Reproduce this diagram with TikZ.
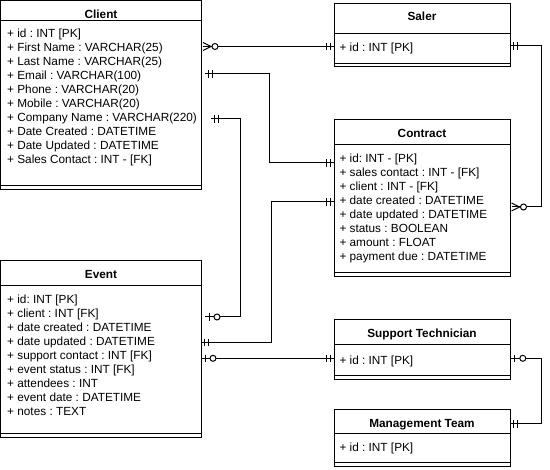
\documentclass[tikz,border=0pt]{standalone}
\usepackage{fontspec}
\setmainfont{Liberation Sans}
\usetikzlibrary{calc}
\frenchspacing

% ER notation end marks
% mandatory one: two bars
\pgfdeclarearrow{
  name = ERone,
  setup code = {
    \pgfarrowssettipend{0pt}
    \pgfarrowssetlineend{0pt}
    \pgfarrowssetbackend{-9pt}
    \pgfarrowssetvisualbackend{-9pt}
    \pgfarrowshullpoint{0pt}{4pt}
    \pgfarrowshullpoint{0pt}{-4pt}
    \pgfarrowshullpoint{-9pt}{4pt}
    \pgfarrowshullpoint{-9pt}{-4pt}
  },
  drawing code = {
    \pgfsetdash{}{0pt}
    \pgfpathmoveto{\pgfpoint{-3.7pt}{-3.6pt}}
    \pgfpathlineto{\pgfpoint{-3.7pt}{3.6pt}}
    \pgfpathmoveto{\pgfpoint{-7.7pt}{-3.6pt}}
    \pgfpathlineto{\pgfpoint{-7.7pt}{3.6pt}}
    \pgfusepathqstroke
  }
}
% zero or one: bar and circle
\pgfdeclarearrow{
  name = ERzone,
  setup code = {
    \pgfarrowssettipend{0pt}
    \pgfarrowssetlineend{0pt}
    \pgfarrowssetbackend{-16pt}
    \pgfarrowssetvisualbackend{-16pt}
    \pgfarrowshullpoint{0pt}{4pt}
    \pgfarrowshullpoint{0pt}{-4pt}
    \pgfarrowshullpoint{-16pt}{4pt}
    \pgfarrowshullpoint{-16pt}{-4pt}
  },
  drawing code = {
    \pgfsetdash{}{0pt}
    \pgfpathmoveto{\pgfpoint{-4pt}{-3.6pt}}
    \pgfpathlineto{\pgfpoint{-4pt}{3.6pt}}
    \pgfusepathqstroke
    \pgfsetfillcolor{white}
    \pgfpathcircle{\pgfpoint{-12pt}{0pt}}{3pt}
    \pgfusepathqfillstroke
  }
}
% zero or many: crow's foot and circle
\pgfdeclarearrow{
  name = ERzmany,
  setup code = {
    \pgfarrowssettipend{0pt}
    \pgfarrowssetlineend{0pt}
    \pgfarrowssetbackend{-16pt}
    \pgfarrowssetvisualbackend{-16pt}
    \pgfarrowshullpoint{0pt}{4pt}
    \pgfarrowshullpoint{0pt}{-4pt}
    \pgfarrowshullpoint{-16pt}{4pt}
    \pgfarrowshullpoint{-16pt}{-4pt}
  },
  drawing code = {
    \pgfsetdash{}{0pt}
    \pgfpathmoveto{\pgfpoint{0pt}{-4pt}}
    \pgfpathlineto{\pgfpoint{-8pt}{0pt}}
    \pgfpathlineto{\pgfpoint{0pt}{4pt}}
    \pgfusepathqstroke
    \pgfsetfillcolor{white}
    \pgfpathcircle{\pgfpoint{-12pt}{0pt}}{3pt}
    \pgfusepathqfillstroke
  }
}

\tikzset{
  entity/.style={draw, line width=1pt, inner sep=0pt, outer sep=0pt,
    anchor=north west, fill=white},
  etitle/.style={font=\fontsize{11.8}{14}\selectfont\bfseries, anchor=base,
    inner sep=0pt},
  attr/.style={font=\fontsize{11.8}{14}\selectfont, anchor=base west,
    inner sep=0pt},
  rule/.style={line width=1pt},
  link/.style={line width=1pt, line join=miter},
}

\begin{document}
\begin{tikzpicture}[x=1pt, y=-1pt]
\fill[white] (0,0) rectangle (550,470);
\useasboundingbox (0,0) rectangle (550,470);

% ---------- Client ----------
\node[entity, minimum width=200.5pt, minimum height=189.5pt] (client) at (0.5,0.5) {};
\draw[rule] (client.west |- 0,21) -- (client.east |- 0,21);
\draw[rule] (client.west |- 0,186) -- (client.east |- 0,186);
\node[etitle] (client-title) at (101,18.3) {Client};
\foreach \t [count=\i from 0] in {
  {+ id : INT [PK]},
  {+ First Name : VARCHAR(25)},
  {+ Last Name : VARCHAR(25)},
  {+ Email : VARCHAR(100)},
  {+ Phone : VARCHAR(20)},
  {+ Mobile : VARCHAR(20)},
  {+ Company Name : VARCHAR(220)},
  {+ Date Created : DATETIME},
  {+ Date Updated : DATETIME},
  {+ Sales Contact : INT - [FK]}}
  \node[attr] (client-r\i) at (7,{37.3+14*\i}) {\t};

% ---------- Event ----------
\node[entity, minimum width=200.5pt, minimum height=177pt] (event) at (0.5,260.7) {};
\draw[rule] (event.west |- 0,286) -- (event.east |- 0,286);
\draw[rule] (event.west |- 0,434) -- (event.east |- 0,434);
\node[etitle] (event-title) at (101,278.3) {Event};
\foreach \t [count=\i from 0] in {
  {+ id: INT [PK]},
  {+ client : INT [FK]},
  {+ date created : DATETIME},
  {+ date updated : DATETIME},
  {+ support contact : INT [FK]},
  {+ event status : INT [FK]},
  {+ attendees : INT},
  {+ event date : DATETIME},
  {+ notes : TEXT}}
  \node[attr] (event-r\i) at (7,{303.6+14*\i}) {\t};

% ---------- Saler ----------
\node[entity, minimum width=176pt, minimum height=63.7pt] (saler) at (334,3.3) {};
\draw[rule] (saler.west |- 0,33.3) -- (saler.east |- 0,33.3);
\draw[rule] (saler.west |- 0,63.3) -- (saler.east |- 0,63.3);
\node[etitle] (saler-title) at (422,21) {Saler};
\node[attr] (saler-r0) at (339.3,52) {+ id : INT [PK]};

% ---------- Contract ----------
\node[entity, minimum width=176pt, minimum height=157.4pt] (contract) at (334,119.3) {};
\draw[rule] (contract.west |- 0,144.3) -- (contract.east |- 0,144.3);
\draw[rule] (contract.west |- 0,272.7) -- (contract.east |- 0,272.7);
\node[etitle] (contract-title) at (422,137.5) {Contract};
\foreach \t [count=\i from 0] in {
  {+ id: INT - [PK]},
  {+ sales contact : INT - [FK]},
  {+ client : INT - [FK]},
  {+ date created : DATETIME},
  {+ date updated : DATETIME},
  {+ status : BOOLEAN},
  {+ amount : FLOAT},
  {+ payment due : DATETIME}}
  \node[attr] (contract-r\i) at (339.3,{163+14*\i}) {\t};

% ---------- Support Technician ----------
\node[entity, minimum width=176pt, minimum height=60pt] (support) at (334,319.3) {};
\draw[rule] (support.west |- 0,345) -- (support.east |- 0,345);
\draw[rule] (support.west |- 0,375.3) -- (support.east |- 0,375.3);
\node[etitle] (support-title) at (422,337.6) {Support Technician};
\node[attr] (support-r0) at (339.3,364.3) {+ id : INT [PK]};

% ---------- Management Team ----------
\node[entity, minimum width=176pt, minimum height=57.4pt] (mgmt) at (334,409.3) {};
\draw[rule] (mgmt.west |- 0,433.3) -- (mgmt.east |- 0,433.3);
\draw[rule] (mgmt.west |- 0,462.7) -- (mgmt.east |- 0,462.7);
\node[etitle] (mgmt-title) at (422,427.6) {Management Team};
\node[attr] (mgmt-r0) at (339.3,451.6) {+ id : INT [PK]};

% ---------- Relationships ----------
\coordinate (cl-saler) at (203,46.5);
\coordinate (cl-email) at (205,74);
\coordinate (cl-company) at (211,119);
\coordinate (ev-client) at (205,317);
\coordinate (co-saler) at (511.5,207);
\coordinate (st-mgmt) at (510.8,358.3);

% Client -- Saler
\draw[link, ERzmany-ERone] (cl-saler) -- (saler.west |- cl-saler);
% Client -- Contract
\draw[link, ERone-ERone] (cl-email) -| (269,163) -- (contract.west |- 0,163);
% Client -- Event
\draw[link, ERone-ERzone] (cl-company) -- (240,119) |- (ev-client);
% Event -- Contract
\draw[link, ERone-ERone] (event.east |- 0,342.5) -| (271,202) -- (contract.west |- 0,202);
% Event -- Support Technician
\draw[link, ERzone-ERone] (event.east |- 0,358.3) -- (support.west |- 0,358.3);
% Saler -- Contract
\draw[link, ERone-ERzmany] (saler.east |- 0,46) -| (541,207) -- (co-saler);
% Support Technician -- Management Team
\draw[link, ERzone-ERone] (st-mgmt) -| (541,424) -- (mgmt.east |- 0,424);
\end{tikzpicture}
\end{document}
